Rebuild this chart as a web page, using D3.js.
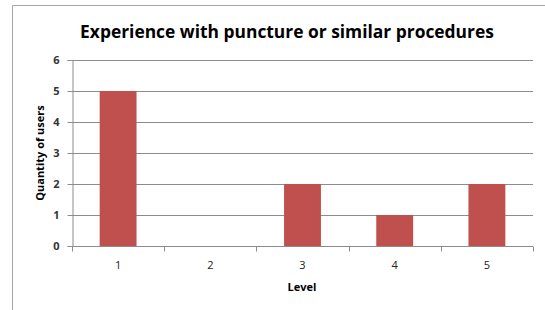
<!DOCTYPE html>
<html>
<head>
    <script src="https://d3js.org/d3.v7.min.js"></script>
    <style>
        body { margin: 0; background: #fff; }
        text { font-family: "Open Sans", sans-serif; }
    </style>
</head>
<body>
    <svg width="545" height="310"></svg>
    <script>
        const levels = ["1", "2", "3", "4", "5"];
        const users = [5, 0, 2, 1, 2];
        const yTicks = [0, 1, 2, 3, 4, 5, 6];

        const svg = d3.select("svg");
        const margin = {left: 72, right: 12, top: 60, bottom: 64};
        const width = 545, height = 310;

        // chart frame
        svg.append("path")
            .attr("d", "M12.5,310 V5.5 H545")
            .attr("fill", "none")
            .attr("stroke", "#a6a6a6");

        const x = d3.scaleBand()
            .domain(levels)
            .range([margin.left, width - margin.right])
            .paddingInner(0.6)
            .paddingOuter(0.3);

        const y = d3.scaleLinear()
            .domain([0, 6])
            .range([height - margin.bottom, margin.top]);

        // gridlines
        svg.append("g")
            .selectAll("line")
            .data(yTicks.slice(1))
            .join("line")
            .attr("x1", margin.left)
            .attr("x2", width - margin.right)
            .attr("y1", d => Math.round(y(d)) + 0.5)
            .attr("y2", d => Math.round(y(d)) + 0.5)
            .attr("stroke", "#8c8c8c");

        // bars
        svg.append("g")
            .selectAll("rect")
            .data(users)
            .join("rect")
            .attr("x", (d, i) => x(levels[i]))
            .attr("width", x.bandwidth())
            .attr("y", d => y(d))
            .attr("height", d => y(0) - y(d))
            .attr("fill", "#c0504d");

        // y axis
        const yAxis = svg.append("g")
            .attr("transform", `translate(${margin.left + 0.5},0)`)
            .call(d3.axisLeft(y).tickValues(yTicks).tickSize(5).tickPadding(8).tickFormat(d3.format("d")));
        yAxis.select(".domain").attr("stroke", "#8c8c8c");
        yAxis.selectAll(".tick line").attr("stroke", "#8c8c8c");
        yAxis.selectAll(".tick text")
            .attr("font-size", 11).attr("font-weight", "bold").attr("fill", "#333");

        // x axis: ticks at category boundaries
        const xBase = Math.round(y(0)) + 0.5;
        const xStart = margin.left;
        const catW = (width - margin.right - xStart) / levels.length;
        svg.append("line")
            .attr("x1", xStart).attr("x2", width - margin.right)
            .attr("y1", xBase).attr("y2", xBase)
            .attr("stroke", "#8c8c8c");
        svg.append("g")
            .selectAll("line")
            .data(d3.range(levels.length + 1))
            .join("line")
            .attr("x1", i => Math.round(xStart + i * catW) + 0.5)
            .attr("x2", i => Math.round(xStart + i * catW) + 0.5)
            .attr("y1", xBase).attr("y2", xBase + 5)
            .attr("stroke", "#8c8c8c");
        svg.append("g")
            .selectAll("text")
            .data(levels)
            .join("text")
            .attr("x", d => x(d) + x.bandwidth() / 2)
            .attr("y", 269)
            .attr("text-anchor", "middle")
            .attr("font-size", 11)
            .attr("fill", "#222")
            .text(d => d);

        // axis titles
        svg.append("text")
            .attr("x", 302).attr("y", 291)
            .attr("text-anchor", "middle")
            .attr("font-size", 11).attr("font-weight", "bold")
            .text("Level");
        svg.append("text")
            .attr("transform", "translate(44,153) rotate(-90)")
            .attr("text-anchor", "middle")
            .attr("font-size", 11).attr("font-weight", "bold")
            .text("Quantity of users");

        // title
        svg.append("text")
            .attr("x", 287).attr("y", 38)
            .attr("text-anchor", "middle")
            .attr("font-size", 17.4).attr("font-weight", "bold")
            .text("Experience with puncture or similar procedures");
    </script>
</body>
</html>
